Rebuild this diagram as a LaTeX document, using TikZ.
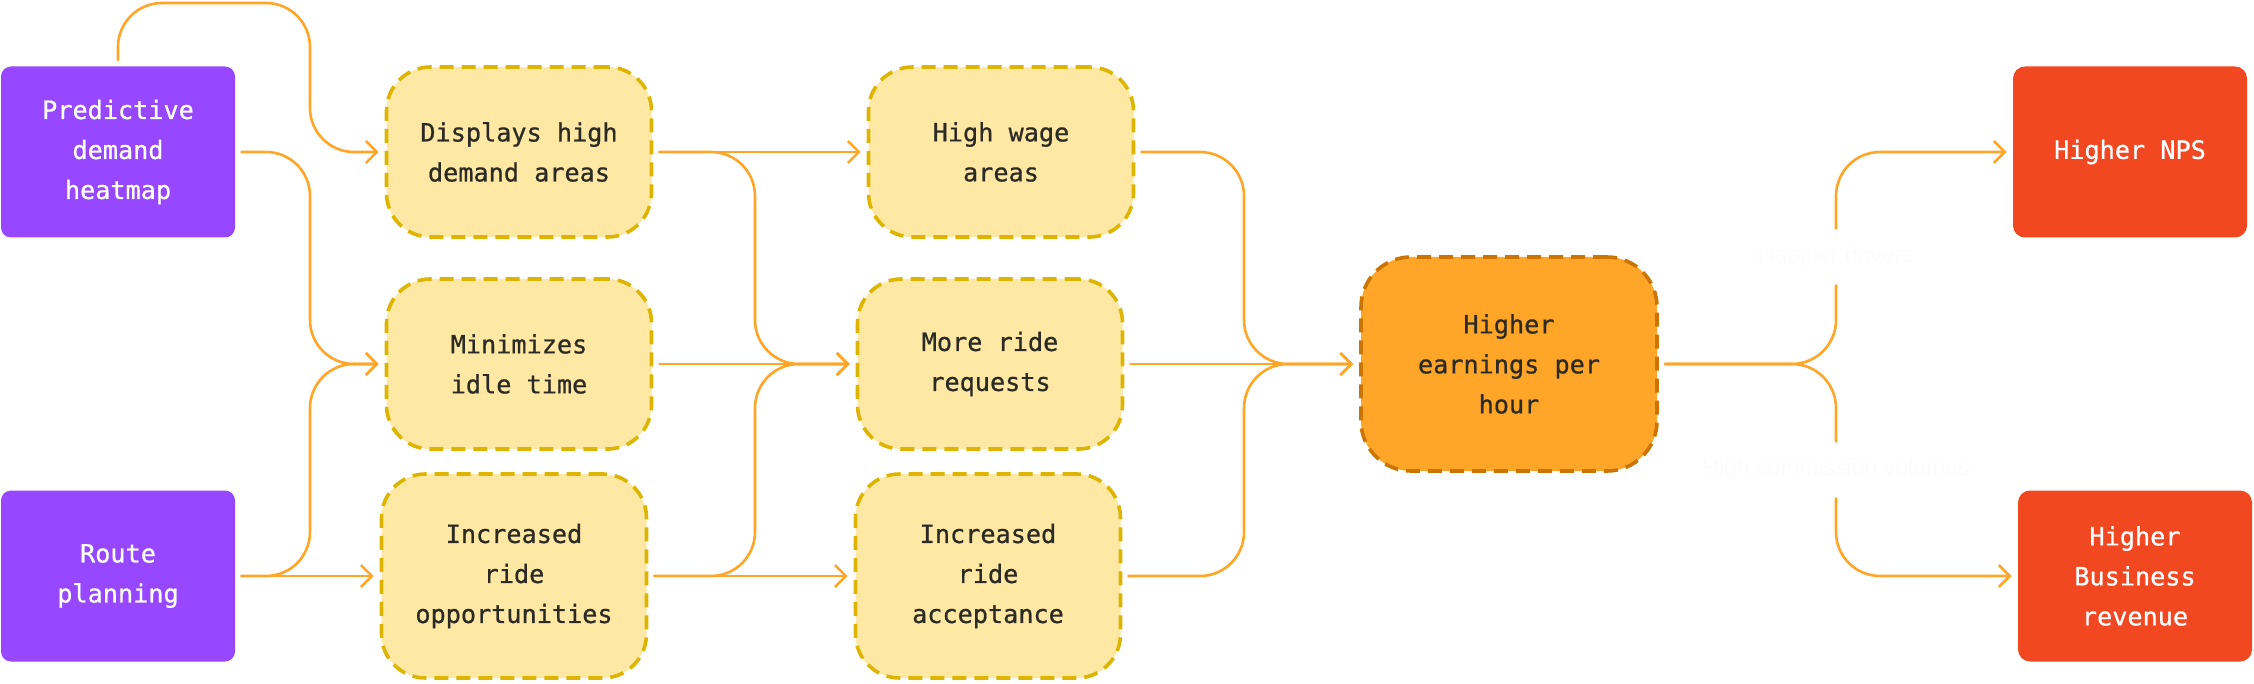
\documentclass[tikz,border=0pt]{standalone}
\usepackage{fontspec}
\newfontfamily\boxfamily[FakeBold=0.7]{DejaVu Sans Mono}
\newfontfamily\notefamily{Liberation Sans}
\usepackage{xcolor}
\usepackage{tikz}
\usetikzlibrary{arrows.meta,positioning}

\definecolor{srcpurple}{HTML}{9747FF}
\definecolor{goalred}{HTML}{F24822}
\definecolor{effectfill}{HTML}{FFE8A3}
\definecolor{effectline}{HTML}{DDB500}
\definecolor{hubfill}{HTML}{FFA629}
\definecolor{hubline}{HTML}{CC7400}
\definecolor{flowcol}{HTML}{FFA629}
\definecolor{inkdark}{HTML}{2B2A25}
\definecolor{faintnote}{HTML}{FCFCFC}

\newcommand{\boxfont}{\boxfamily\fontsize{12.6}{20}\selectfont}
\newcommand{\notefont}{\notefamily\fontsize{11.5}{14}\selectfont}

\begin{document}
\begin{tikzpicture}[
      x=0.5pt, y=-0.5pt,
      >={Straight Barb[length=5.5pt,width=11pt]},
      src/.style={rectangle, rounded corners=5pt, fill=srcpurple, text=white,
      minimum width=117pt, minimum height=85.5pt, align=center, font=\boxfont},
      goal/.style={src, fill=goalred, rounded corners=6pt},
      effect/.style={rectangle, rounded corners=22pt, fill=effectfill, draw=effectline,
      line width=1.8pt, dash pattern=on 7pt off 4pt, minimum width=132.5pt,
      minimum height=85pt, align=center, font=\boxfont, text=inkdark},
      hub/.style={effect, fill=hubfill, draw=hubline, rounded corners=25pt,
      minimum width=148pt, minimum height=107pt},
      note/.style={rectangle, fill=white, text=faintnote, font=\notefont,
      minimum height=28pt, inner xsep=2pt},
      link/.style={draw=flowcol, line width=1.3pt, rounded corners=22pt, line cap=round},
      flow/.style={link, ->, shorten <=3pt, shorten >=3pt}]
    \useasboundingbox (0,0) rectangle (2254,684);

    % lanes where the connectors bend
    \coordinate (top) at (0,3);
    \coordinate (laneA) at (310,0);
    \coordinate (laneB) at (755,0);
    \coordinate (laneC) at (1244,0);
    \coordinate (laneD) at (1836,0);

    % inputs
    \node[src] (pred) at (118,152) {Predictive\\demand\\heatmap};
    \node[src] (route) at (118,576) {Route\\planning};

    % first effects
    \node[effect] (disp) at (519,152) {Displays high\\demand areas};
    \node[effect] (idle) at (519,364) {Minimizes\\idle time};
    \node[effect, minimum height=102pt] (opps) at (514,576) {Increased\\ride\\opportunities};

    % second effects
    \node[effect] (wage) at (1001,152) {High wage\\areas};
    \node[effect] (reqs) at (990,364) {More ride\\requests};
    \node[effect, minimum height=102pt] (accept) at (988,576) {Increased\\ride\\acceptance};

    \node[hub] (earn) at (1509,364) {Higher\\earnings per\\hour};

    % outcomes
    \node[goal] (nps) at (2130,152) {Higher NPS};
    \node[goal] (biz) at (2135,576) {Higher\\Business\\revenue};

    \node[note] (happy) at (laneD |- 0,257) {Happier drivers};
    \node[note] (comm) at (laneD |- 0,470) {High commission volumes};

    % inputs -> first effects
    \draw[flow] (pred.north) |- (laneA |- top) |- (disp.west);
    \draw[flow] (pred.east) -| (laneA |- idle.west) -- (idle.west);
    \draw[flow] (route.east) -| (laneA |- idle.west) -- (idle.west);
    \draw[flow] (route.east) -- (opps.west);

    % first -> second effects
    \draw[flow] (disp.east) -- (wage.west);
    \draw[flow] (disp.east) -| (laneB |- reqs.west) -- (reqs.west);
    \draw[flow] (idle.east) -- (reqs.west);
    \draw[flow] (opps.east) -| (laneB |- reqs.west) -- (reqs.west);
    \draw[flow] (opps.east) -- (accept.west);

    % second effects -> earnings
    \draw[flow] (wage.east) -| (laneC |- earn.west) -- (earn.west);
    \draw[flow] (reqs.east) -- (earn.west);
    \draw[flow] (accept.east) -| (laneC |- earn.west) -- (earn.west);

    % earnings -> outcomes
    \draw[link, shorten <=3pt] (earn.east) -| (happy.south);
    \draw[flow, shorten <=0pt] (happy.north) |- (nps.west);
    \draw[link, shorten <=3pt] (earn.east) -| (comm.north);
    \draw[flow, shorten <=0pt] (comm.south) |- (biz.west);
  \end{tikzpicture}
\end{document}
